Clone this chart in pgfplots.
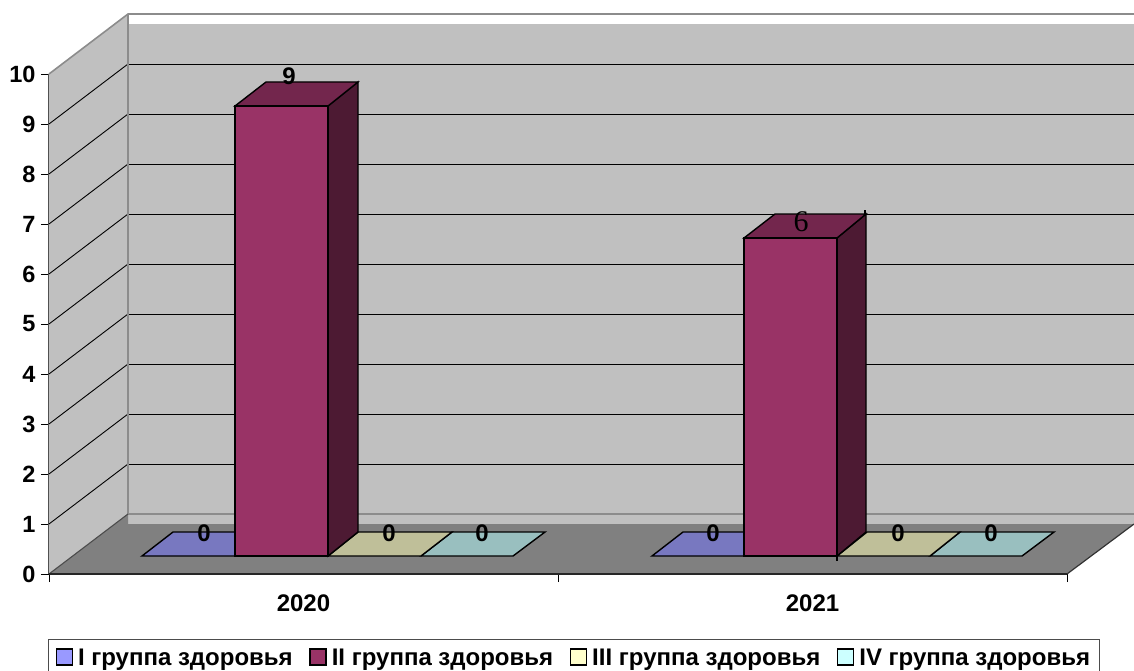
\documentclass[border=0pt]{standalone}
\usepackage{fontspec}
\setmainfont{Liberation Sans}
\newfontfamily\serifsix{Liberation Serif}
\usepackage{pgfplots}
\pgfplotsset{compat=1.18}
\definecolor{wall}{HTML}{C0C0C0}
\definecolor{floorc}{HTML}{808080}
\definecolor{edgeg}{HTML}{8C8C8C}
\definecolor{sI}{HTML}{9999FF}
\definecolor{sII}{HTML}{993366}
\definecolor{sIII}{HTML}{FFFFCC}
\definecolor{sIV}{HTML}{CCFFFF}
\definecolor{pI}{HTML}{7878C0}
\definecolor{pIII}{HTML}{BFBF99}
\definecolor{pIV}{HTML}{99BFBF}
\definecolor{bTop}{HTML}{73264D}
\definecolor{bSide}{HTML}{4D1A33}
\pgfplotsset{
  swatch/.style={legend image code/.code={\draw[#1,line width=1.5pt] (0pt,-7pt) rectangle (16pt,9pt);}},
  face/.style={draw=black,line width=1.4pt,fill=#1,line join=miter},
  grid3d/.style={black,line width=0.9pt},
}
\newcommand{\lab}[3]{\node[font=\fontsize{24}{26}\selectfont\bfseries] at (axis cs:#1,#2) {#3};}
\begin{document}
\begin{tikzpicture}
\path[use as bounding box] (-49pt,-96pt) rectangle (1085pt,574pt);
\begin{axis}[
  at={(0pt,0pt)}, anchor=south west,
  width=1018pt, height=500pt, scale only axis,
  clip=false, axis on top=false,
  xmin=49, xmax=1067, ymin=0, ymax=10,
  axis x line*=bottom, axis y line*=left,
  axis line style={-,draw=black!75,line width=1.3pt},
  tick align=outside, major tick length=8pt,
  tick style={black,line width=0.9pt},
  xtick={49,558,1067}, xticklabels={,,},
  extra x ticks={303.5,812.5}, extra x tick labels={2020,2021},
  extra x tick style={major tick length=0pt,tick style={draw=none},xticklabel style={yshift=-17pt,font=\fontsize{24}{26}\selectfont\bfseries}},
  ytick={0,1,2,3,4,5,6,7,8,9,10},
  /pgf/number format/assume math mode=true,
  ticklabel style={font=\fontsize{23.5}{26}\selectfont\bfseries},
  yticklabel style={xshift=-2pt},
  legend columns=4, legend cell align=left,
  legend style={at={(axis cs:48,-1.3)},anchor=north west,draw=black!70,line width=1pt,fill=white,
    font=\fontsize{24}{26}\selectfont\bfseries,inner xsep=7pt,inner ysep=7.5pt,
    /tikz/every even column/.append style={column sep=14.6pt}},
]
% back wall, with the strip where its fill falls short of its frame
\addplot[draw=none,fill=wall,forget plot] coordinates {(128,11.0)(1134,11.0)(1134,1.0)(128,1.0)} --cycle;
% left wall
\addplot[draw=none,fill=wall,forget plot] coordinates {(49,10)(128,11.2)(128,1.2)(49,0)} --cycle;
% gridlines on the back wall
\addplot[grid3d,forget plot] coordinates {(128,10.2)(1134,10.2)};
\addplot[grid3d,forget plot] coordinates {(128,9.2)(1134,9.2)};
\addplot[grid3d,forget plot] coordinates {(128,8.2)(1134,8.2)};
\addplot[grid3d,forget plot] coordinates {(128,7.2)(1134,7.2)};
\addplot[grid3d,forget plot] coordinates {(128,6.2)(1134,6.2)};
\addplot[grid3d,forget plot] coordinates {(128,5.2)(1134,5.2)};
\addplot[grid3d,forget plot] coordinates {(128,4.2)(1134,4.2)};
\addplot[grid3d,forget plot] coordinates {(128,3.2)(1134,3.2)};
\addplot[grid3d,forget plot] coordinates {(128,2.2)(1134,2.2)};
% gridlines on the left wall
\addplot[grid3d,forget plot] coordinates {(49,9)(128,10.2)};
\addplot[grid3d,forget plot] coordinates {(49,8)(128,9.2)};
\addplot[grid3d,forget plot] coordinates {(49,7)(128,8.2)};
\addplot[grid3d,forget plot] coordinates {(49,6)(128,7.2)};
\addplot[grid3d,forget plot] coordinates {(49,5)(128,6.2)};
\addplot[grid3d,forget plot] coordinates {(49,4)(128,5.2)};
\addplot[grid3d,forget plot] coordinates {(49,3)(128,4.2)};
\addplot[grid3d,forget plot] coordinates {(49,2)(128,3.2)};
\addplot[grid3d,forget plot] coordinates {(49,1)(128,2.2)};
% wall frame
\addplot[edgeg,line width=1.6pt,forget plot] coordinates {(49,10)(128,11.2)(1134,11.2)};
\addplot[edgeg,line width=1.6pt,forget plot] coordinates {(128,11.2)(128,1.2)(1134,1.2)};
% floor
\addplot[draw=none,fill=floorc,forget plot] coordinates {(49,0)(128,1.2)(128,1.0)(1134,1.0)(1067,0)} --cycle;
\addplot[black!80,line width=1.2pt,forget plot] coordinates {(1067,0)(1134,1.0)};
\addplot[black!70,line width=1.1pt,forget plot] coordinates {(49,0)(128,1.2)};
% group 2020: 0, 9, 0, 0
\addplot[face=pI,forget plot] coordinates {(142,0.36)(235,0.36)(266,0.84)(173,0.84)} --cycle;
\addplot[face=pIV,forget plot] coordinates {(421,0.36)(513,0.36)(545,0.84)(452,0.84)} --cycle;
\addplot[face=pIII,forget plot] coordinates {(328,0.36)(421,0.36)(452,0.84)(358,0.84)} --cycle;
\addplot[face=bSide,forget plot] coordinates {(328,0.36)(358,0.84)(358,9.84)(328,9.36)} --cycle;
\addplot[face=bTop,forget plot] coordinates {(235,9.36)(328,9.36)(358,9.84)(266,9.84)} --cycle;
\addplot[face=sII,forget plot] coordinates {(235,0.36)(328,0.36)(328,9.36)(235,9.36)} --cycle;
% group 2021: 0, 6.36 as drawn, 0, 0
\addplot[face=pI,forget plot] coordinates {(652,0.36)(744,0.36)(775,0.84)(683,0.84)} --cycle;
\addplot[face=pIV,forget plot] coordinates {(930,0.36)(1022,0.36)(1054,0.84)(960,0.84)} --cycle;
\addplot[face=pIII,forget plot] coordinates {(837,0.36)(930,0.36)(960,0.84)(867,0.84)} --cycle;
\addplot[face=bSide,forget plot] coordinates {(837,0.36)(866,0.84)(866,7.2)(837,6.72)} --cycle;
\addplot[face=bTop,forget plot] coordinates {(744,6.72)(837,6.72)(866,7.2)(775,7.2)} --cycle;
\addplot[face=sII,forget plot] coordinates {(744,0.36)(837,0.36)(837,6.72)(744,6.72)} --cycle;
% stray leader marks on the 2021 bar
\addplot[black,line width=2.4pt,forget plot] coordinates {(837,0.36)(837,0.26)};
\addplot[black,line width=2.4pt,forget plot] coordinates {(865,7.2)(865,7.29)};
% front edge over the floor
\addplot[black!85,line width=1.3pt,forget plot] coordinates {(49,0)(1067,0)};
% data labels
\lab{289}{9.96}{9}
\lab{204}{0.82}{0}
\lab{389}{0.82}{0}
\lab{482}{0.82}{0}
\lab{713}{0.82}{0}
\lab{898}{0.82}{0}
\lab{991}{0.82}{0}
\node[font=\fontsize{30}{32}\selectfont\serifsix] at (axis cs:801,7.05) {6};
% legend
\addlegendimage{swatch={fill=sI,draw=black}}
\addlegendentry{\hspace{3pt}I группа здоровья}
\addlegendimage{swatch={fill=sII,draw=black}}
\addlegendentry{\hspace{3pt}II группа здоровья}
\addlegendimage{swatch={fill=sIII,draw=black}}
\addlegendentry{\hspace{3pt}III группа здоровья}
\addlegendimage{swatch={fill=sIV,draw=black}}
\addlegendentry{\hspace{3pt}IV группа здоровья\hspace{13pt}}
\end{axis}
\end{tikzpicture}
\end{document}
